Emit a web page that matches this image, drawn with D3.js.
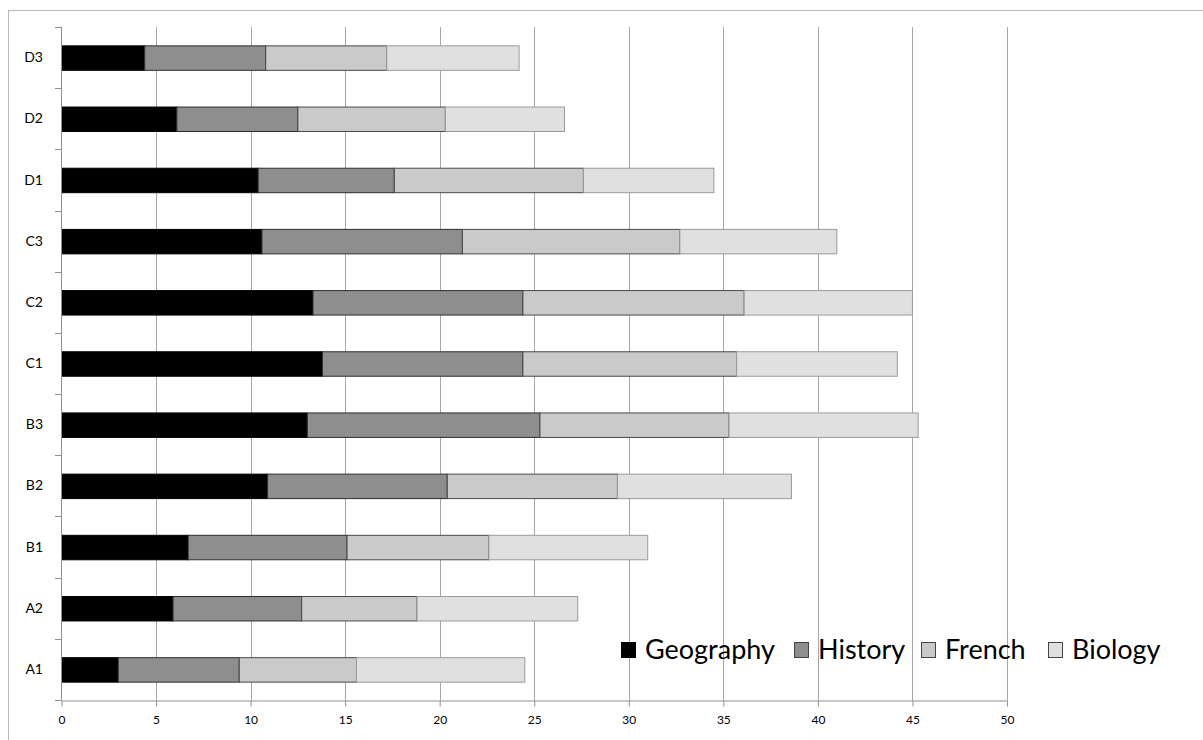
<!DOCTYPE html>
<html>
<head>
<meta charset="utf-8">
<script src="https://cdn.jsdelivr.net/npm/d3@7"></script>
<style>
  html, body { margin: 0; padding: 0; background: #fff; }
  svg { display: block; font-family: Lato, "Open Sans", sans-serif; }
</style>
</head>
<body>
<svg id="chart" width="1203" height="740"></svg>
<script>
const categories = ["A1", "A2", "B1", "B2", "B3", "C1", "C2", "C3", "D1", "D2", "D3"];
const seriesNames = ["Geography", "History", "French", "Biology"];
const geography = [3.0, 5.9, 6.7, 10.9, 13.0, 13.8, 13.3, 10.6, 10.4, 6.1, 4.4];
const history   = [6.4, 6.8, 8.4, 9.5, 12.3, 10.6, 11.1, 10.6, 7.2, 6.4, 6.4];
const french    = [6.2, 6.1, 7.5, 9.0, 10.0, 11.3, 11.7, 11.5, 10.0, 7.8, 6.4];
const biology   = [8.9, 8.5, 8.4, 9.2, 10.0, 8.5, 8.9, 8.3, 6.9, 6.3, 7.0];
const xTicks = [0, 5, 10, 15, 20, 25, 30, 35, 40, 45, 50];

const fills = ["#000000", "#8e8e8e", "#cacaca", "#e0e0e0"];
const strokes = ["#000000", "#2e2e2e", "#4a4a4a", "#9a9a9a"];

const svg = d3.select("#chart");

// outer chart border (left/top visible)
svg.append("rect").attr("x", 8.5).attr("y", 10.5).attr("width", 1205).attr("height", 745)
  .attr("fill", "none").attr("stroke", "#b8b8b8").attr("stroke-width", 1);

const x = d3.scaleLinear().domain([0, 50]).range([61.5, 1007]);
const y = d3.scaleBand().domain(categories.slice().reverse()).range([27, 700])
  .paddingInner(0.6).paddingOuter(0.3);

// gridlines
svg.append("g").selectAll("line").data(xTicks.filter(d => d > 0)).join("line")
  .attr("x1", d => Math.round(x(d)) + 0.5).attr("x2", d => Math.round(x(d)) + 0.5)
  .attr("y1", 27).attr("y2", 700)
  .attr("stroke", "#a6a6a6").attr("stroke-width", 1);

// stacked data
const rows = categories.map((c, i) => ({ cat: c, Geography: geography[i], History: history[i], French: french[i], Biology: biology[i] }));
const stack = d3.stack().keys(seriesNames)(rows);

svg.append("g").selectAll("g").data(stack).join("g")
  .attr("fill", (d, i) => fills[i]).attr("stroke", (d, i) => strokes[i]).attr("stroke-width", 1)
  .selectAll("rect").data(d => d).join("rect")
  .attr("x", d => x(d[0]))
  .attr("width", d => x(d[1]) - x(d[0]))
  .attr("y", d => y(d.data.cat) + 0.5)
  .attr("height", y.bandwidth());

// y axis line and ticks at band boundaries
const step = y.step();
const gap = step - y.bandwidth();
const boundaries = categories.map(c => y(c) - gap / 2).concat([y(categories[0]) + y.bandwidth() + gap / 2]);
const yAxisG = svg.append("g");
yAxisG.append("line").attr("x1", 61.5).attr("x2", 61.5).attr("y1", 27).attr("y2", 700)
  .attr("stroke", "#909090");
yAxisG.selectAll("line.t").data(boundaries).join("line").attr("class", "t")
  .attr("x1", 55).attr("x2", 61.5)
  .attr("y1", d => Math.round(d) + 0.5).attr("y2", d => Math.round(d) + 0.5)
  .attr("stroke", "#909090");
yAxisG.selectAll("text").data(categories).join("text")
  .attr("x", 43).attr("y", d => y(d) + y.bandwidth() / 2 + 1)
  .attr("text-anchor", "end").attr("dominant-baseline", "middle")
  .style("font-family", "Lato, 'Open Sans', sans-serif")
  .attr("font-size", 14).attr("fill", "#000").text(d => d);

// x axis
const xAxis = d3.axisBottom(x).tickValues(xTicks).tickSize(6).tickSizeOuter(0).tickPadding(9).tickFormat(d3.format("d"));
const xg = svg.append("g").attr("transform", "translate(0,700.5)").call(xAxis);
xg.select(".domain").attr("stroke", "#909090");
xg.selectAll(".tick line").attr("stroke", "#909090");
xg.selectAll(".tick text").attr("fill", "#000")
  .style("font-family", "Lato, 'Open Sans', sans-serif").style("font-size", "12px");

// legend
const legendX = [621, 794, 921, 1048];
const legend = svg.append("g");
seriesNames.forEach((name, i) => {
  legend.append("rect").attr("x", legendX[i] + 0.5).attr("y", 642.5).attr("width", 14).attr("height", 15)
    .attr("fill", fills[i]).attr("stroke", strokes[i] === "#000000" ? "#000" : "#444");
  legend.append("text").attr("x", legendX[i] + 24).attr("y", 659)
    .style("font-family", "Lato, 'Open Sans', sans-serif").style("font-size", "27px")
    .attr("fill", "#000").text(name);
});
</script>
</body>
</html>
